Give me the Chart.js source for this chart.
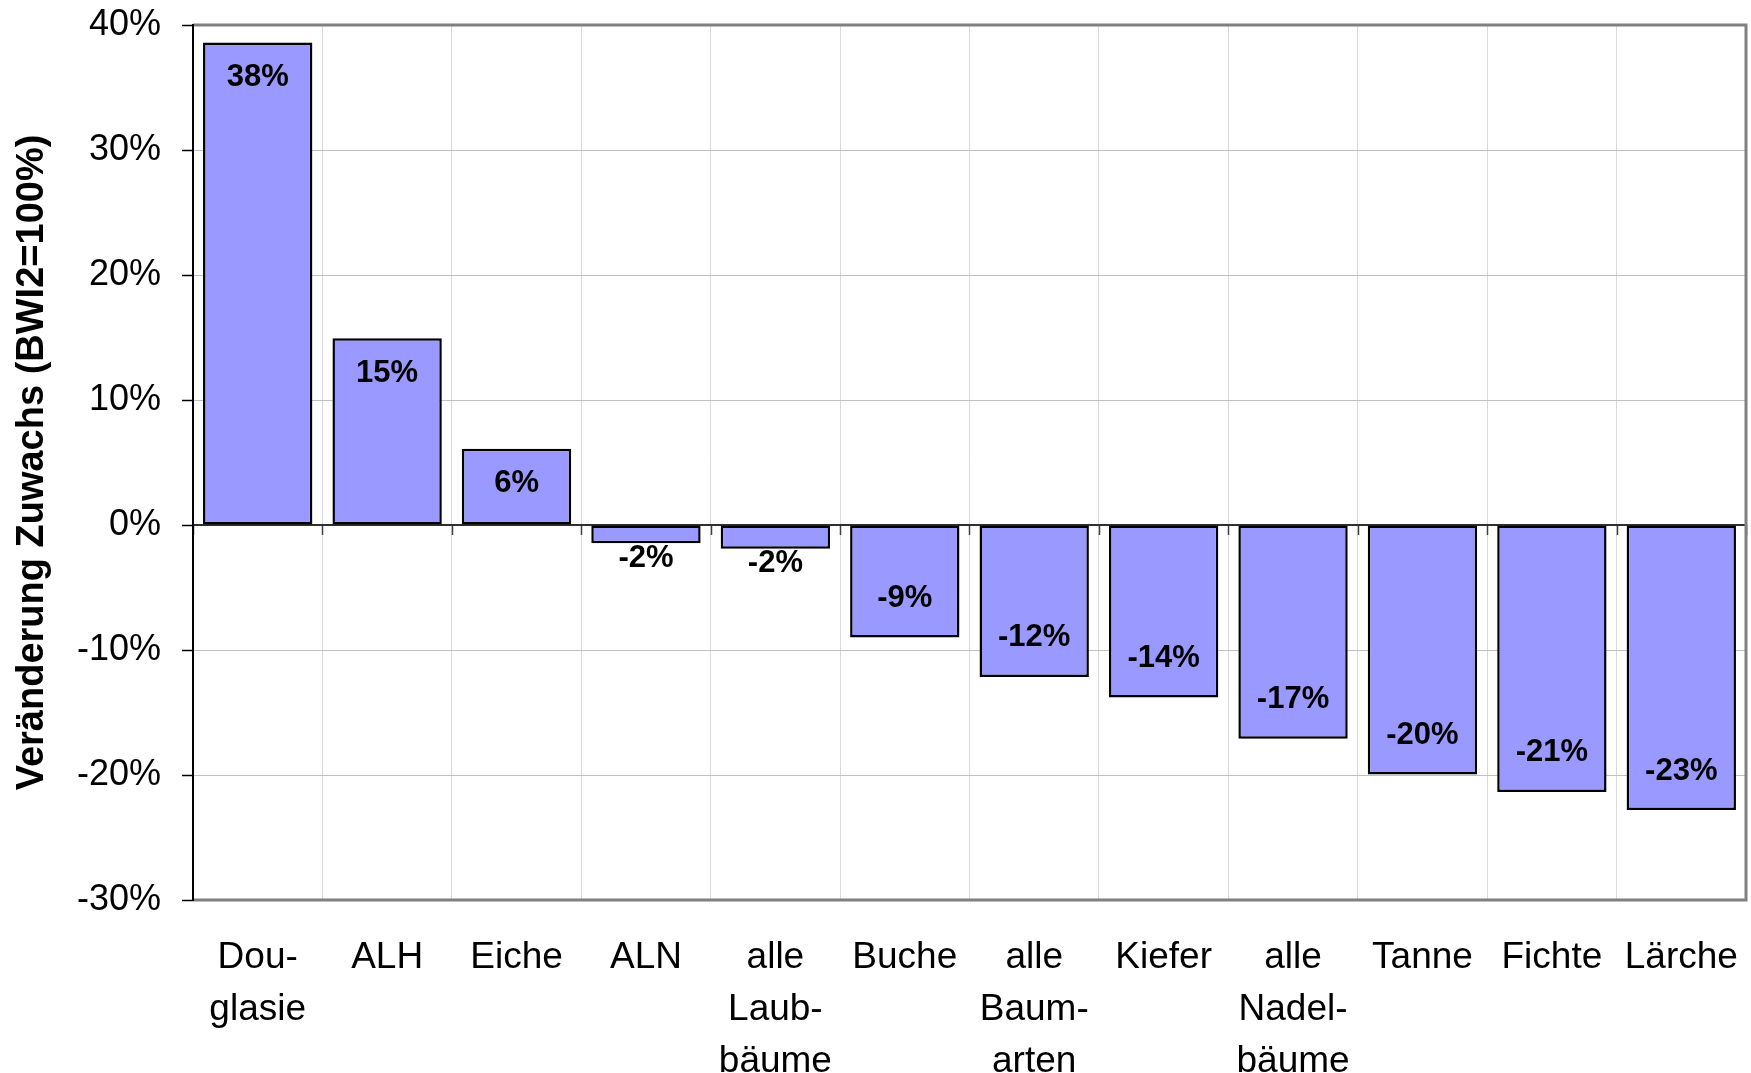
<!DOCTYPE html>
<html>
<head>
<meta charset="utf-8">
<script src="https://cdn.jsdelivr.net/npm/chart.js@4.4.1/dist/chart.umd.min.js"></script>
<style>
  html, body { margin: 0; padding: 0; background: #fff; }
  #wrap { width: 1751px; height: 1073px; }
</style>
</head>
<body>
<div id="wrap"><canvas id="chart-zuwachs" width="1751" height="1073"></canvas></div>
<script>
(function () {
  /* ---- Data ---- */
  var categories = [
    ['Dou-', 'glasie'], 'ALH', 'Eiche', 'ALN', ['alle', 'Laub-', 'bäume'], 'Buche',
    ['alle', 'Baum-', 'arten'], 'Kiefer', ['alle', 'Nadel-', 'bäume'], 'Tanne', 'Fichte', 'Lärche'
  ];
  var changeValues = [38.6, 14.95, 6.1, -1.45, -1.9, -9.0, -12.15, -13.8, -17.1, -19.95, -21.35, -22.8];
  var valueLabels = ['38%', '15%', '6%', '-2%', '-2%', '-9%', '-12%', '-14%', '-17%', '-20%', '-21%', '-23%'];
  var yTicks = [-30, -20, -10, 0, 10, 20, 30, 40];

  var FONT = "'Liberation Sans', Arial, Helvetica, sans-serif";
  Chart.defaults.font.family = FONT;
  Chart.defaults.color = '#000';

  /* ---- Frame, zero-line ticks and bar labels ---- */
  var framePlugin = {
    id: 'frame',
    beforeDatasetsDraw: function (chart) {
      var c = chart.ctx, a = chart.chartArea, x = chart.scales.x, y = chart.scales.y;
      var zeroY = y.getPixelForValue(0);
      var half = (x.getPixelForValue(1) - x.getPixelForValue(0)) / 2;
      c.save();
      // small category ticks hanging from the zero line
      c.strokeStyle = '#404040';
      c.lineWidth = 1.5;
      for (var i = 0; i <= categories.length; i++) {
        var px = i < categories.length ? x.getPixelForValue(i) - half : a.right;
        c.beginPath();
        c.moveTo(Math.round(px) + 0.5, zeroY);
        c.lineTo(Math.round(px) + 0.5, zeroY + 10);
        c.stroke();
      }
      // zero line
      c.strokeStyle = '#303030';
      c.lineWidth = 2;
      c.beginPath();
      c.moveTo(a.left, zeroY);
      c.lineTo(a.right, zeroY);
      c.stroke();
      c.restore();
    },
    afterDatasetsDraw: function (chart) {
      var c = chart.ctx, a = chart.chartArea;
      var meta = chart.getDatasetMeta(0);
      c.save();
      // gray frame top / right / bottom
      c.strokeStyle = '#808080';
      c.lineWidth = 3;
      c.beginPath();
      c.moveTo(a.left, a.top);
      c.lineTo(a.right, a.top);
      c.lineTo(a.right, a.bottom);
      c.lineTo(a.left, a.bottom);
      c.stroke();
      // left axis
      c.strokeStyle = '#000';
      c.lineWidth = 2;
      c.beginPath();
      c.moveTo(a.left, a.top - 1);
      c.lineTo(a.left, a.bottom + 1);
      c.stroke();

      c.font = 'bold 31px ' + FONT;
      c.fillStyle = '#000';
      c.textAlign = 'center';
      c.textBaseline = 'middle';
      meta.data.forEach(function (bar, i) {
        var v = changeValues[i];
        var h = Math.abs(bar.base - bar.y);
        var ty;
        if (v >= 0) ty = bar.y + 35;
        else if (h > 80) ty = bar.y - 39;
        else ty = bar.y + 15;
        c.fillText(valueLabels[i], bar.x, ty);
      });
      c.restore();
    }
  };

  new Chart(document.getElementById('chart-zuwachs'), {
    type: 'bar',
    data: {
      labels: categories,
      datasets: [{
        data: changeValues,
        backgroundColor: '#9999ff',
        borderColor: '#000',
        borderWidth: 2.5,
        borderSkipped: false,
        barPercentage: 0.845,
        categoryPercentage: 1.0
      }]
    },
    options: {
      responsive: false,
      devicePixelRatio: 1,
      animation: false,
      layout: { padding: { top: 25, right: 5, left: 0, bottom: 0 } },
      plugins: {
        legend: { display: false },
        tooltip: { enabled: false }
      },
      scales: {
        x: {
          offset: true,
          grid: { offset: true, color: '#d9d9d9', lineWidth: 1, drawTicks: false },
          border: { display: false },
          ticks: {
            font: { size: 37, lineHeight: 1.4 },
            color: '#000',
            padding: 32,
            maxRotation: 0,
            autoSkip: false
          },
          afterFit: function (s) {
            s.height = 173;
            s.paddingLeft = 0;
            s.paddingRight = 0;
          }
        },
        y: {
          min: yTicks[0],
          max: yTicks[yTicks.length - 1],
          afterBuildTicks: function (s) { s.ticks = yTicks.map(function (v) { return { value: v }; }); },
          grid: {
            color: '#c0c0c0',
            lineWidth: 1,
            tickLength: 11,
            tickColor: '#000',
            tickWidth: 1.5
          },
          border: { display: false },
          ticks: {
            font: { size: 36 },
            color: '#000',
            padding: 21,
            callback: function (v) { return v + '%'; }
          },
          title: {
            display: true,
            text: 'Veränderung Zuwachs (BWI2=100%)',
            font: { size: 38, weight: 'bold' },
            color: '#000',
            padding: { top: 10, bottom: 0 }
          },
          afterFit: function (s) {
            s.width = 193;
            s.paddingTop = 0;
            s.paddingBottom = 0;
          }
        }
      }
    },
    plugins: [framePlugin]
  });
})();
</script>
</body>
</html>
